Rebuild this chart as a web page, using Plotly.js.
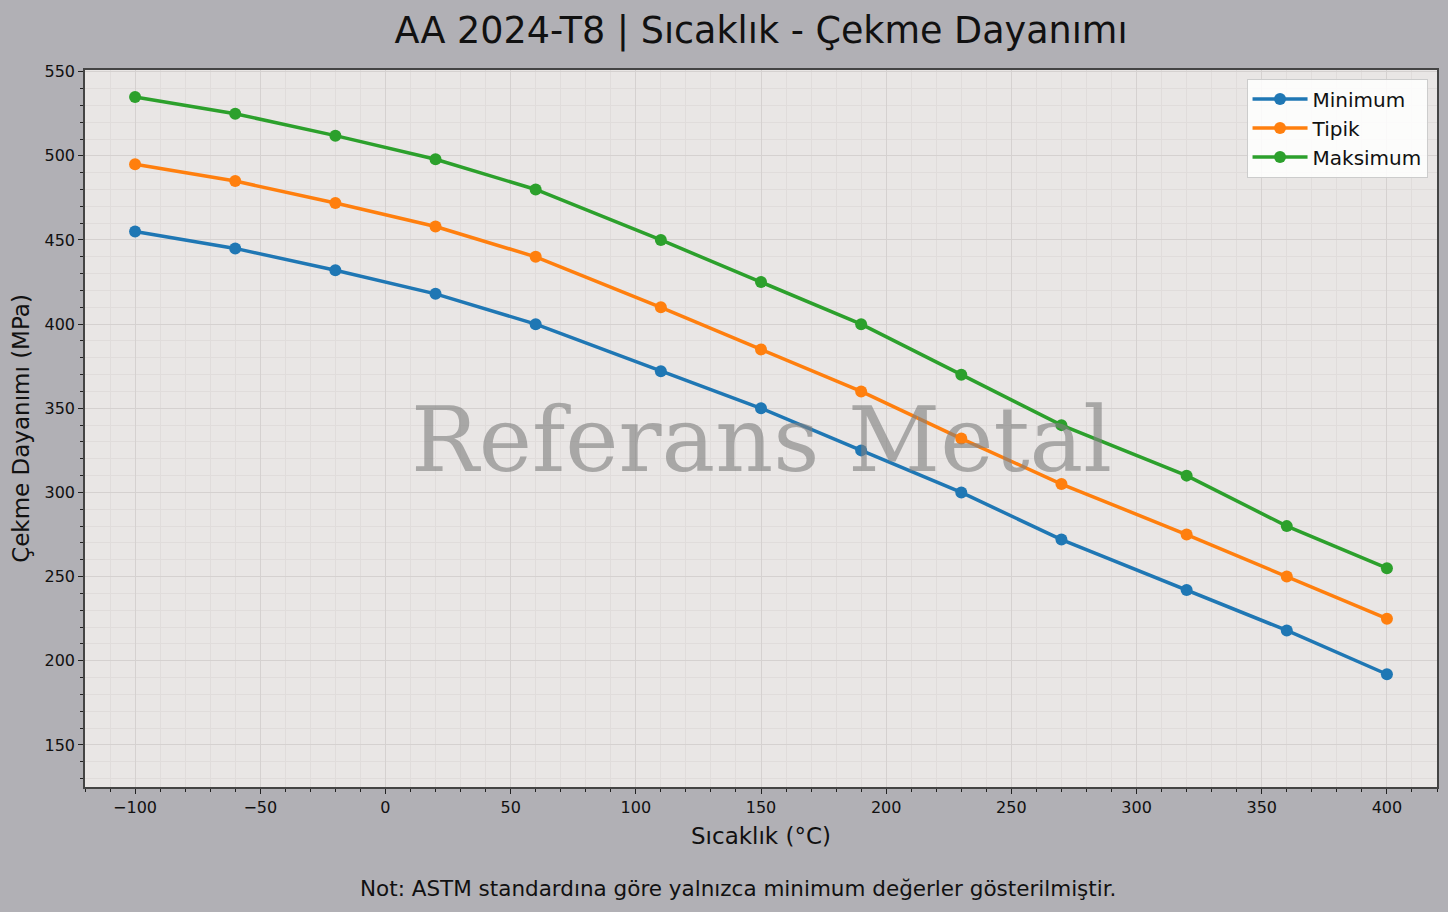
<!DOCTYPE html>
<html>
<head>
<meta charset="utf-8">
<script src="https://cdn.plot.ly/plotly-3.0.1.min.js"></script>
<style>
  body { margin: 0; background-color: #b1b0b5; }
</style>
</head>
<body>
<div id="myDiv"></div>
<script>
// Temperature points (°C)
var temps = [-100, -60, -20, 20, 60, 110, 150, 190, 230, 270, 320, 360, 400]
// Tensile strength (MPa)
var minimum = [455, 445, 432, 418, 400, 372, 350, 325, 300, 272, 242, 218, 192]
var tipik = [495, 485, 472, 458, 440, 410, 385, 360, 332, 305, 275, 250, 225]
var maksimum = [535, 525, 512, 498, 480, 450, 425, 400, 370, 340, 310, 280, 255]

var names = ['Minimum', 'Tipik', 'Maksimum']
var colors = ['#1f77b4', '#ff7f0e', '#2ca02c']
var series = [minimum, tipik, maksimum]

var data = []
for (let i = 0; i < series.length; i++) {
  data.push({
    x: temps, y: series[i], name: names[i], type: 'scatter', mode: 'lines+markers',
    line: {color: colors[i], width: 3.5},
    marker: {color: colors[i], size: 12}
  })
}

// Axis styling shared by both axes
function axisStyle(extra) {
  var ax = {
    showline: true, mirror: true, linecolor: '#444444', linewidth: 1.5,
    ticks: 'outside', ticklen: 5, tickwidth: 1, tickcolor: '#222222',
    showgrid: true, gridcolor: '#d5d1d0', gridwidth: 1.2,
    zeroline: false,
    tickfont: {family: 'DejaVu Sans', size: 16, color: '#111111'}
  }
  for (var k in extra) ax[k] = extra[k]
  return ax
}

var minorStyle = {ticks: 'outside', ticklen: 3, tickcolor: '#222222', dtick: 10, showgrid: true, gridcolor: '#e0dcdb', gridwidth: 0.6}

var layout = {
  width: 1448, height: 912,
  paper_bgcolor: '#b1b0b5',
  plot_bgcolor: '#e9e6e5',
  margin: {l: 85, r: 11, t: 70, b: 125},
  title: {
    text: 'AA 2024-T8 | Sıcaklık - Çekme Dayanımı',
    font: {family: 'DejaVu Sans', size: 36.5, color: '#111111'},
    xref: 'paper', x: 0.5, xanchor: 'center', y: 0.967, yanchor: 'middle'
  },
  xaxis: axisStyle({
    range: [-120, 420], dtick: 50, tick0: 0,
    title: {text: 'Sıcaklık (°C)', font: {family: 'DejaVu Sans', size: 23, color: '#111111'}, standoff: 12},
    minor: minorStyle
  }),
  yaxis: axisStyle({
    range: [125, 551], dtick: 50, tick0: 0,
    title: {text: 'Çekme Dayanımı (MPa)', font: {family: 'DejaVu Sans', size: 23, color: '#111111'}, standoff: 8},
    minor: minorStyle
  }),
  legend: {
    x: 0.993, xanchor: 'right', y: 0.988, yanchor: 'top',
    bgcolor: 'rgba(255,255,255,0.85)', bordercolor: '#cccccc', borderwidth: 1,
    itemwidth: 55,
    font: {family: 'DejaVu Sans', size: 20, color: '#111111'}
  },
  annotations: [
    {
      text: 'Referans Metal', xref: 'paper', yref: 'paper', x: 0.5, y: 0.485,
      xanchor: 'center', yanchor: 'middle', showarrow: false,
      font: {family: 'DejaVu Serif', size: 90, color: 'rgba(128,128,128,0.62)'}
    },
    {
      text: 'Not: ASTM standardına göre yalnızca minimum değerler gösterilmiştir.',
      xref: 'paper', yref: 'paper', x: 0.483, y: -0.142,
      xanchor: 'center', yanchor: 'middle', showarrow: false,
      font: {family: 'DejaVu Sans', size: 21.5, color: '#111111'}
    }
  ]
}

Plotly.newPlot('myDiv', data, layout, {displayModeBar: false})
</script>
</body>
</html>
